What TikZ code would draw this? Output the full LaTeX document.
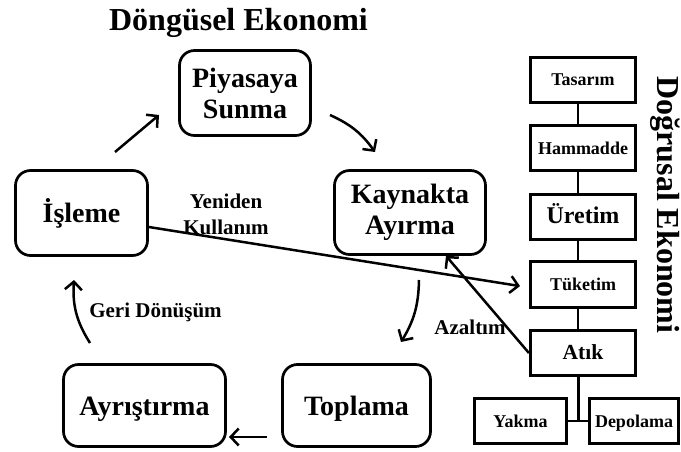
\documentclass[tikz,border=0pt]{standalone}
\usepackage{fontspec}
\setmainfont{Liberation Serif}
\usetikzlibrary{arrows.meta}
\begin{document}
\begin{tikzpicture}[x=1pt,y=-1pt,
 rbox/.style={draw, line width=2.7pt, rounded corners=15pt, align=center, inner sep=0pt, font=\fontsize{28}{31}\selectfont\bfseries},
 onel/.style={text height=25pt, text depth=6pt},
 sbox/.style={draw, line width=2.7pt, inner sep=0pt, minimum width=105.5pt, minimum height=45.5pt, font=\fontsize{18}{20}\selectfont\bfseries, text height=15pt, text depth=3pt},
 lbl/.style={font=\fontsize{21}{26}\selectfont\bfseries, align=center, inner sep=0pt},
 arr/.style={line width=2.5pt, -{Straight Barb[length=8pt,width=17pt]}},
 link/.style={line width=2.7pt},
 ttl/.style={font=\fontsize{32}{36}\selectfont\bfseries, inner sep=0pt}]
\useasboundingbox (0,0) rectangle (681,452);

% titles
\node[ttl, anchor=base] (title) at (238.5,31) {Döngüsel Ekonomi};
\node[ttl, rotate=-90, anchor=base] (dog) at (657,205) {Doğrusal Ekonomi};

% circular economy boxes
\node[rbox, minimum width=131pt, minimum height=85pt] (piy) at (245,93) {Piyasaya\\Sunma};
\node[rbox, minimum width=151pt, minimum height=84pt] (kay) at (410,212.5) {Kaynakta\\Ayırma};
\node[rbox, onel, minimum width=132pt, minimum height=85pt] (isl) at (81.5,213) {İşleme};
\node[rbox, onel, minimum width=148pt, minimum height=82pt] (top) at (356.5,405.5) {Toplama};
\node[rbox, onel, minimum width=162pt, minimum height=82pt] (ayr) at (144.5,405.5) {Ayrıştırma};

% linear economy boxes
\node[sbox] (tas) at (583,80) {Tasarım};
\node[sbox] (ham) at (583,148) {Hammadde};
\node[sbox, font=\fontsize{24}{26}\selectfont\bfseries, text height=17pt, text depth=5pt] (ure) at (583,217) {Üretim};
\node[sbox] (tuk) at (583,284.5) {Tüketim};
\node[sbox, font=\fontsize{21.5}{24}\selectfont\bfseries, text height=16pt, text depth=4pt] (atk) at (583,353) {Atık};
\node[sbox, minimum width=92.5pt] (yak) at (520.5,421) {Yakma};
\node[sbox, minimum width=89.5pt] (dep) at (634,421) {Depolama};

% labels
\node[lbl] (yk) at (226,214) {Yeniden\\Kullanım};
\node[lbl, anchor=base] (gd) at (155.5,317) {Geri Dönüşüm};
\node[lbl, anchor=base] (az) at (470,334) {Azaltım};

% cycle arrows
\coordinate (a1s) at (115,152); \coordinate (a1e) at (159,115);
\coordinate (a2s) at (330,115); \coordinate (a2e) at (375,152);
\coordinate (a3s) at (419,280); \coordinate (a3e) at (401,342);
\coordinate (a4s) at (267,437); \coordinate (a4e) at (229,437);
\coordinate (a5s) at (90,343);  \coordinate (a5e) at (74,280);
\draw[arr] (a1s) -- (a1e);
\draw[arr] (a2s) to[bend left=15] (a2e);
\draw[arr] (a3s) to[bend left=15] (a3e);
\draw[arr] (a4s) -- (a4e);
\draw[arr] (a5s) to[bend left=18] (a5e);

% cross arrows
\draw[arr, shorten >=9pt] ([yshift=-14pt]isl.east) -- ([yshift=-3pt]tuk.west);
\draw[arr] (atk.west) -- ([xshift=36pt]kay.south);

% linear links
\draw[link] ([xshift=-5pt]tas.south) -- ([xshift=-5pt]ham.north);
\draw[link] ([xshift=-5pt]ham.south) -- ([xshift=-5pt]ure.north);
\draw[link] ([xshift=-5pt]ure.south) -- ([xshift=-5pt]tuk.north);
\draw[link] ([xshift=-5pt]tuk.south) -- ([xshift=-5pt]atk.north);
\coordinate (j) at (578,421);
\draw[line width=3pt] ([xshift=-5pt]atk.south) -- (j);
\draw[link] (yak.east) -- (dep.west);
\end{tikzpicture}
\end{document}
